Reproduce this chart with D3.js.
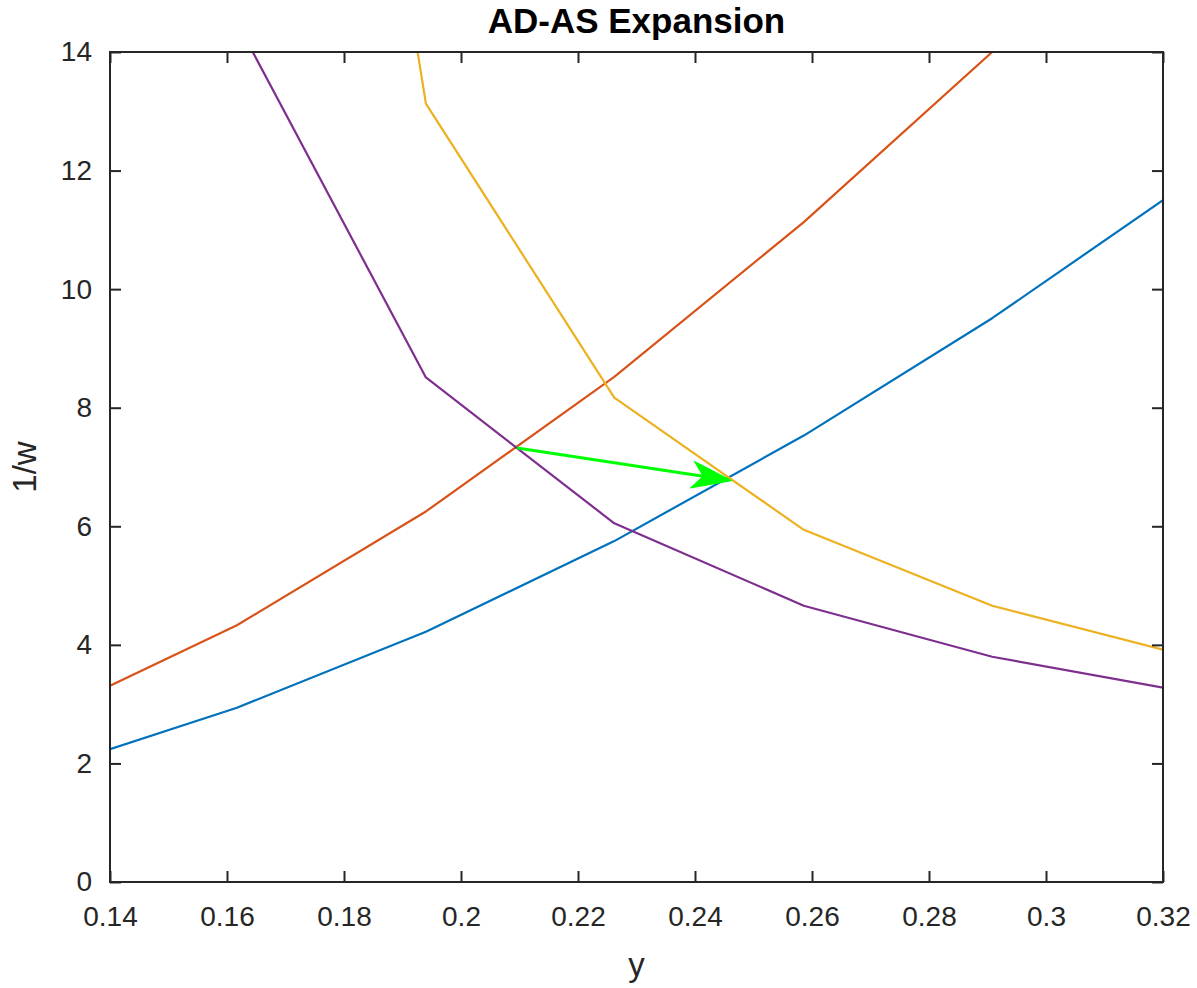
<!DOCTYPE html>
<html>
<head>
<meta charset="utf-8">
<script src="https://cdn.jsdelivr.net/npm/d3@7"></script>
<style>
  body { margin: 0; background: #fff; }
  text { font-family: "Liberation Sans", Arial, sans-serif; fill: #262626; }
</style>
</head>
<body>
<div id="chart"></div>
<script>
//data
var xTicks = [0.14, 0.16, 0.18, 0.2, 0.22, 0.24, 0.26, 0.28, 0.3, 0.32];
var yTicks = [0, 2, 4, 6, 8, 10, 12, 14];

// x positions of the curve points
var yPts = [0.14, 0.1617, 0.194, 0.2262, 0.2586, 0.2908, 0.32];

var asBase = [2.24, 2.94, 4.22, 5.75, 7.53, 9.51, 11.5];
var asShift = [3.31, 4.33, 6.25, 8.52, 11.13, 14.0, 16.6];
var adBase = [17.0, 14.5, 8.51, 6.05, 4.66, 3.80, 3.28];
var adShift = [60, 33, 13.13, 8.17, 5.94, 4.66, 3.92];

var arrowFrom = [0.2096, 7.32];
var arrowTo = [0.2463, 6.77];

//setup
var margin = {top: 52, right: 34, bottom: 106, left: 110},
    width = 1197 - margin.left - margin.right,
    height = 988 - margin.top - margin.bottom;
var axisColor = "#262626";

const svg = d3.select("#chart").append("svg")
    .attr("width", 1197)
    .attr("height", 988)
    .append("g")
    .attr("transform", "translate(" + margin.left + "," + margin.top + ")");

const x = d3.scaleLinear().domain([0.14, 0.32]).range([0, width]);
const y = d3.scaleLinear().domain([0, 14]).range([height, 0]);

svg.append("clipPath").attr("id", "clip")
    .append("rect").attr("width", width).attr("height", height);

const line = d3.line()
    .x(function (d) { return x(d[0]); })
    .y(function (d) { return y(d[1]); });

var series = [
    {vals: asBase, color: "#0072BD"},
    {vals: asShift, color: "#D95319"},
    {vals: adShift, color: "#EDB120"},
    {vals: adBase, color: "#7E2F8E"}
];

const plot = svg.append("g").attr("clip-path", "url(#clip)");
series.forEach(function (s) {
    plot.append("path")
        .datum(yPts.map(function (p, i) { return [p, s.vals[i]]; }))
        .attr("d", line)
        .attr("fill", "none")
        .attr("stroke", s.color)
        .attr("stroke-width", 2.2)
        .attr("stroke-linejoin", "round");
});

// green arrow (quiver style)
var x0 = x(arrowFrom[0]), y0 = y(arrowFrom[1]),
    x1 = x(arrowTo[0]), y1 = y(arrowTo[1]);
var len = Math.hypot(x1 - x0, y1 - y0),
    ux = (x1 - x0) / len, uy = (y1 - y0) / len,
    nx = -uy, ny = ux;
var headLen = 40, notch = 29, halfW = 13.5;
plot.append("line")
    .attr("x1", x0).attr("y1", y0)
    .attr("x2", x1 - ux * notch).attr("y2", y1 - uy * notch)
    .attr("stroke", "#00FF00")
    .attr("stroke-width", 3);
var head = [
    [x1, y1],
    [x1 - ux * headLen + nx * halfW, y1 - uy * headLen + ny * halfW],
    [x1 - ux * notch, y1 - uy * notch],
    [x1 - ux * headLen - nx * halfW, y1 - uy * headLen - ny * halfW]
];
plot.append("path")
    .attr("d", "M" + head.map(function (p) { return p.join(","); }).join("L") + "Z")
    .attr("fill", "#00FF00")
    .attr("stroke", "#00FF00")
    .attr("stroke-width", 1);

// axes with inward ticks on all four sides
function styleAxis(g) {
    g.select(".domain").remove();
    g.selectAll(".tick line").attr("stroke", axisColor).attr("stroke-width", 2);
    g.selectAll("text").attr("font-size", 28).attr("fill", axisColor);
}

const xFmt = function (d) { return d3.format("")(+d.toFixed(2)); };

svg.append("g")
    .attr("transform", "translate(0," + height + ")")
    .call(d3.axisBottom(x).tickValues(xTicks).tickSize(-11).tickPadding(24).tickFormat(xFmt))
    .call(styleAxis);
svg.append("g")
    .call(d3.axisTop(x).tickValues(xTicks).tickSize(-11).tickFormat(""))
    .call(styleAxis);
svg.append("g")
    .call(d3.axisLeft(y).tickValues(yTicks).tickSize(-11).tickPadding(18))
    .call(styleAxis);
svg.append("g")
    .attr("transform", "translate(" + width + ",0)")
    .call(d3.axisRight(y).tickValues(yTicks).tickSize(-11).tickFormat(""))
    .call(styleAxis);

svg.append("rect")
    .attr("width", width).attr("height", height)
    .attr("fill", "none")
    .attr("stroke", axisColor)
    .attr("stroke-width", 2);

// labels
svg.append("text")
    .attr("x", width / 2).attr("y", -19)
    .attr("text-anchor", "middle")
    .attr("font-size", 35)
    .attr("font-weight", "bold")
    .style("fill", "#000")
    .text("AD-AS Expansion");

svg.append("text")
    .attr("x", width / 2).attr("y", height + 94)
    .attr("text-anchor", "middle")
    .attr("font-size", 33)
    .text("y");

svg.append("text")
    .attr("transform", "translate(-74," + (height / 2) + ") rotate(-90)")
    .attr("text-anchor", "middle")
    .attr("font-size", 33)
    .text("1/w");
</script>
</body>
</html>
